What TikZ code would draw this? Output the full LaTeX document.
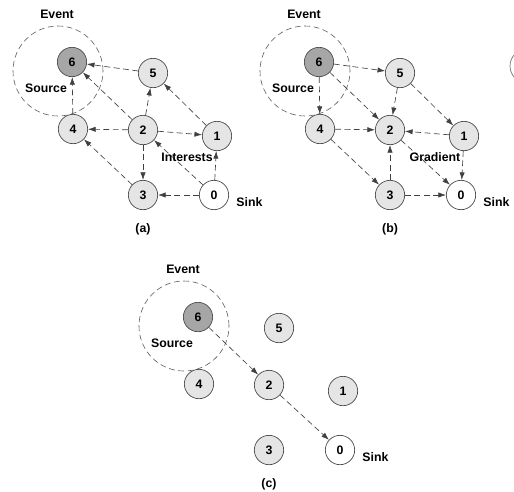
\documentclass[tikz,border=0pt]{standalone}
\usepackage{fontspec}
\setmainfont{Liberation Sans}
\usetikzlibrary{arrows.meta}
\begin{document}
\begin{tikzpicture}[x=0.03cm, y=-0.03cm, font=\fontsize{10.5}{12}\selectfont\bfseries, line join=round,
		>={Latex[length=6.5pt,width=4.5pt]},
		sensor/.style={circle, draw=black!70, line width=.6pt, fill=gray!20, minimum size=.88cm, inner sep=0pt},
		source/.style={sensor, fill=gray!70},
		sink/.style={sensor, fill=white},
		event/.style={circle, draw=black!65, line width=.5pt, dash pattern=on 5pt off 3pt, minimum size=2.7cm, inner sep=0pt},
		lbl/.style={inner sep=1pt},
		link/.style={->, draw=black!75, line width=.55pt, dash pattern=on 5pt off 3pt}]
	\useasboundingbox (0,0) rectangle (514,491);
	% cut-off piece at the right edge
	\begin{scope}
		\clip (0,0) rectangle (514,491);
		\draw[black!55, line width=.6pt] (527,66) circle[radius=17];
	\end{scope}
	% the three panels share one layout
	\foreach \p/\dx/\dy in {a/0/0,b/247/0,c/126/255}{
		\begin{scope}[shift={(\dx,\dy)}]
			\node[event] (\p ev) at (58,71) {};
			\node[lbl] (\p evt) at (57,14) {Event};
			\node[lbl] (\p src) at (46,88) {Source};
			\node[source] (\p6) at (72,62) {6};
			\foreach \n/\x/\y in {5/153/73,4/73/129,2/143/130,1/217/136,3/143/195}
				\node[sensor] (\p\n) at (\x,\y) {\n};
			\node[sink] (\p0) at (214,195) {0};
			\node[lbl, anchor=west] (\p snk) at (235,202) {Sink};
			\node[lbl] (\p cap) at (143,229) {(\p)};
		\end{scope}
	}
	% (a) interests
	\foreach \u/\v in {a5/a6,a2/a6,a4/a6,a2/a5,a1/a5,a2/a4,a2/a1,a2/a3,a0/a2,a0/a1,a0/a3,a3/a4}
		\draw[link] (\u) -- (\v);
	\node[lbl] (int) at (187,157) {Interests};
	% (b) gradients
	\foreach \u/\v in {b6/b5,b6/b2,b6/b4,b5/b2,b5/b1,b4/b2,b4/b3,b1/b2,b1/b0,b3/b2,b3/b0,b2/b0}
		\draw[link] (\u) -- (\v);
	\node[lbl] (grd) at (435,157) {Gradient};
	% (c) reinforced path
	\foreach \u/\v in {c6/c2,c2/c0}
		\draw[link] (\u) -- (\v);
\end{tikzpicture}
\end{document}
